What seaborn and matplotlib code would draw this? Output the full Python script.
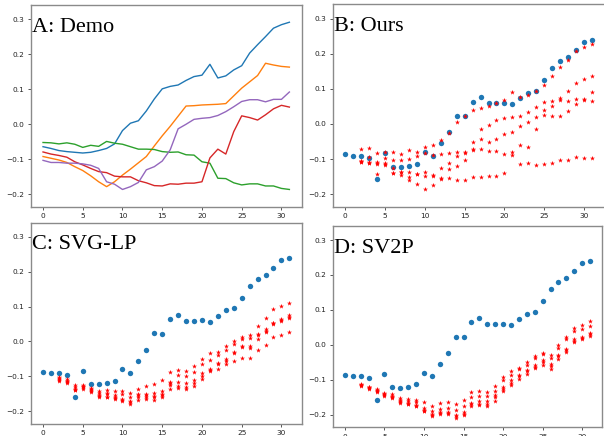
import numpy as np
import pandas as pd
import matplotlib
matplotlib.use("Agg")
import matplotlib.pyplot as plt
import seaborn as sns

# ---------------- data ----------------
steps = list(range(32))
pred_steps = list(range(2, 32))

demo_blue = [-0.064, -0.069, -0.075, -0.078, -0.080, -0.082, -0.080, -0.075, -0.069, -0.056,
             -0.018, 0.003, 0.010, 0.038, 0.072, 0.101, 0.108, 0.112, 0.125, 0.136,
             0.140, 0.171, 0.132, 0.138, 0.155, 0.167, 0.203, 0.227, 0.250, 0.274,
             0.284, 0.291]
demo_orange = [-0.092, -0.097, -0.102, -0.109, -0.121, -0.132, -0.147, -0.164, -0.178, -0.164,
               -0.145, -0.128, -0.110, -0.092, -0.062, -0.033, -0.006, 0.023, 0.052, 0.053,
               0.055, 0.056, 0.057, 0.059, 0.081, 0.103, 0.121, 0.139, 0.174, 0.169,
               0.165, 0.163]
demo_green = [-0.052, -0.053, -0.056, -0.053, -0.057, -0.066, -0.060, -0.063, -0.049, -0.054,
              -0.057, -0.064, -0.071, -0.071, -0.072, -0.078, -0.080, -0.079, -0.087, -0.088,
              -0.107, -0.111, -0.154, -0.155, -0.167, -0.173, -0.170, -0.170, -0.176, -0.176,
              -0.183, -0.186]
demo_red = [-0.079, -0.085, -0.089, -0.094, -0.107, -0.116, -0.126, -0.135, -0.138, -0.148,
            -0.150, -0.150, -0.161, -0.167, -0.175, -0.176, -0.170, -0.171, -0.168, -0.168,
            -0.164, -0.096, -0.071, -0.085, -0.021, 0.024, 0.019, 0.012, 0.027, 0.044,
            0.054, 0.049]
demo_purple = [-0.103, -0.109, -0.109, -0.111, -0.111, -0.113, -0.117, -0.126, -0.164, -0.171,
               -0.186, -0.178, -0.166, -0.130, -0.121, -0.105, -0.073, -0.013, 0.000, 0.014,
               0.017, 0.019, 0.025, 0.036, 0.050, 0.065, 0.070, 0.070, 0.064, 0.071,
               0.071, 0.092]

ground_truth = [-0.087, -0.090, -0.090, -0.096, -0.158, -0.084, -0.122, -0.123, -0.120, -0.113,
                -0.080, -0.090, -0.055, -0.023, 0.023, 0.022, 0.064, 0.076, 0.059, 0.060,
                0.061, 0.057, 0.074, 0.089, 0.095, 0.126, 0.159, 0.179, 0.192, 0.210,
                0.233, 0.241]

ours_s1 = [-0.070, -0.069, -0.082, -0.081, -0.081, -0.086, -0.075, -0.079, -0.066, -0.059,
           -0.046, -0.025, 0.005, 0.022, 0.040, 0.047, 0.050, 0.060, 0.069, 0.090,
           0.076, 0.083, 0.094, 0.111, 0.137, 0.162, 0.183, 0.209, 0.219, 0.227]
ours_s2 = [-0.105, -0.095, -0.108, -0.098, -0.103, -0.104, -0.100, -0.091, -0.082, -0.088,
           -0.087, -0.084, -0.079, -0.079, -0.052, -0.014, -0.002, 0.011, 0.016, 0.019,
           0.024, 0.033, 0.048, 0.062, 0.067, 0.073, 0.094, 0.116, 0.128, 0.136]
ours_s3 = [-0.108, -0.110, -0.113, -0.115, -0.139, -0.138, -0.138, -0.144, -0.136, -0.146,
           -0.125, -0.110, -0.091, -0.084, -0.072, -0.043, -0.050, -0.043, -0.029, -0.022,
           -0.007, 0.006, 0.019, 0.040, 0.051, 0.069, 0.067, 0.070, 0.070, 0.092]
ours_s4 = [-0.106, -0.108, -0.143, -0.117, -0.125, -0.145, -0.150, -0.144, -0.148, -0.148,
           -0.153, -0.129, -0.119, -0.103, -0.074, -0.070, -0.077, -0.076, -0.086, -0.089,
           -0.060, -0.067, -0.015, 0.026, 0.023, 0.023, 0.038, 0.056, 0.068, 0.067]
ours_s5 = [-0.109, -0.110, -0.110, -0.112, -0.139, -0.138, -0.161, -0.170, -0.185, -0.174,
           -0.157, -0.155, -0.160, -0.160, -0.150, -0.150, -0.149, -0.149, -0.139, -0.081,
           -0.114, -0.112, -0.116, -0.114, -0.110, -0.103, -0.103, -0.095, -0.098, -0.098]

svglp_s1 = [-0.103, -0.108, -0.126, -0.124, -0.133, -0.143, -0.140, -0.143, -0.143, -0.148,
            -0.136, -0.127, -0.122, -0.110, -0.088, -0.082, -0.086, -0.070, -0.050, -0.034,
            -0.030, -0.012, 0.000, 0.014, 0.019, 0.044, 0.066, 0.092, 0.101, 0.111]
svglp_s2 = [-0.106, -0.112, -0.130, -0.128, -0.137, -0.149, -0.148, -0.155, -0.150, -0.160,
            -0.150, -0.150, -0.148, -0.143, -0.116, -0.095, -0.098, -0.089, -0.065, -0.053,
            -0.038, -0.025, -0.008, 0.006, 0.010, 0.022, 0.036, 0.054, 0.065, 0.076]
svglp_s3 = [-0.110, -0.116, -0.135, -0.132, -0.141, -0.156, -0.158, -0.163, -0.165, -0.172,
            -0.160, -0.158, -0.157, -0.150, -0.125, -0.117, -0.120, -0.110, -0.091, -0.080,
            -0.063, -0.050, -0.031, -0.017, -0.012, 0.006, 0.026, 0.050, 0.060, 0.070]
svglp_s4 = [-0.113, -0.120, -0.140, -0.136, -0.146, -0.160, -0.160, -0.165, -0.171, -0.180,
            -0.168, -0.165, -0.167, -0.160, -0.135, -0.133, -0.136, -0.127, -0.108, -0.085,
            -0.079, -0.065, -0.057, -0.046, -0.048, -0.025, -0.009, 0.013, 0.019, 0.028]
svglp_s5 = [-0.108, -0.114, -0.138, -0.130, -0.140, -0.153, -0.150, -0.160, -0.168, -0.175,
            -0.155, -0.155, -0.160, -0.155, -0.120, -0.127, -0.130, -0.118, -0.098, -0.082,
            -0.066, -0.057, -0.033, -0.012, -0.020, 0.018, 0.030, 0.052, 0.062, 0.068]

sv2p_s1 = [-0.112, -0.120, -0.127, -0.138, -0.141, -0.152, -0.155, -0.158, -0.165, -0.175,
           -0.167, -0.164, -0.170, -0.157, -0.136, -0.132, -0.134, -0.117, -0.091, -0.075,
           -0.065, -0.050, -0.032, -0.023, -0.029, -0.001, 0.023, 0.049, 0.058, 0.067]
sv2p_s2 = [-0.114, -0.122, -0.130, -0.141, -0.145, -0.157, -0.160, -0.165, -0.180, -0.190,
           -0.183, -0.180, -0.186, -0.175, -0.148, -0.145, -0.146, -0.132, -0.101, -0.086,
           -0.069, -0.058, -0.039, -0.027, -0.037, -0.009, 0.018, 0.040, 0.045, 0.054]
sv2p_s3 = [-0.116, -0.124, -0.133, -0.144, -0.150, -0.163, -0.166, -0.172, -0.186, -0.198,
           -0.193, -0.192, -0.200, -0.193, -0.167, -0.160, -0.162, -0.143, -0.120, -0.102,
           -0.086, -0.072, -0.058, -0.044, -0.055, -0.028, -0.013, 0.018, 0.023, 0.035]
sv2p_s4 = [-0.118, -0.126, -0.135, -0.147, -0.153, -0.167, -0.170, -0.176, -0.190, -0.203,
           -0.197, -0.197, -0.208, -0.200, -0.176, -0.172, -0.176, -0.160, -0.131, -0.115,
           -0.099, -0.084, -0.067, -0.058, -0.069, -0.041, -0.020, 0.009, 0.016, 0.026]
sv2p_s5 = [-0.115, -0.123, -0.131, -0.142, -0.148, -0.160, -0.168, -0.174, -0.188, -0.200,
           -0.195, -0.195, -0.205, -0.197, -0.170, -0.168, -0.170, -0.150, -0.125, -0.108,
           -0.090, -0.076, -0.062, -0.050, -0.060, -0.033, -0.016, 0.012, 0.019, 0.030]

panel_titles = ["A: Demo", "B: Ours", "C: SVG-LP", "D: SV2P"]
x_ticks = [0, 5, 10, 15, 20, 25, 30]
y_ticks = [-0.2, -0.1, 0.0, 0.1, 0.2, 0.3]

# ---------------- figure ----------------
W, H = 604, 436
fig = plt.figure(figsize=(W / 100, H / 100), dpi=100)
fig.patch.set_facecolor("white")


def px_axes(left, top, right, bottom):
    return fig.add_axes([left / W, 1 - bottom / H, (right - left) / W, (bottom - top) / H])


axA = px_axes(30.7, 4.7, 301.7, 207.0)
axB = px_axes(332.7, 4.5, 604.5, 206.7)
axC = px_axes(30.7, 222.7, 301.7, 423.7)
axD = px_axes(332.7, 225.7, 602.3, 427.3)

tab = ["#1f77b4", "#ff7f0e", "#2ca02c", "#d62728", "#9467bd"]

demo = pd.DataFrame({"step": steps * 5,
                     "value": demo_blue + demo_orange + demo_green + demo_red + demo_purple,
                     "run": sum([[i] * 32 for i in range(5)], [])})
sns.lineplot(data=demo, x="step", y="value", hue="run", palette=tab, ax=axA,
             legend=False, linewidth=1.0)


def scatter_panel(ax, series):
    sns.scatterplot(x=steps, y=ground_truth, ax=ax, color="#1f77b4", marker="o",
                    s=15, linewidth=0, legend=False, zorder=2)
    for s in series:
        sns.scatterplot(x=pred_steps, y=s, ax=ax, color="red", marker="*",
                        s=14, linewidth=0, legend=False, zorder=3)


scatter_panel(axB, [ours_s1, ours_s2, ours_s3, ours_s4, ours_s5])
scatter_panel(axC, [svglp_s1, svglp_s2, svglp_s3, svglp_s4, svglp_s5])
scatter_panel(axD, [sv2p_s1, sv2p_s2, sv2p_s3, sv2p_s4, sv2p_s5])

for ax, title in zip([axA, axB, axC, axD], panel_titles):
    ax.set_xlim(-1.55, 32.55)
    ax.set_ylim(-0.236, 0.341)
    ax.set_xticks(x_ticks)
    ax.set_yticks(y_ticks)
    ax.set_xticklabels([str(t) for t in x_ticks])
    ax.set_yticklabels([f"{t:.1f}".replace("-", "\u2212") for t in y_ticks])
    ax.set_xlabel("")
    ax.set_ylabel("")
    ax.tick_params(labelsize=5.3, length=2.5, width=0.7, pad=2.0,
                   color="#555555", labelcolor="#222222")
    for sp in ax.spines.values():
        sp.set_color("#8a8a8a")
        sp.set_linewidth(1.0)
    ax.set_facecolor("white")
    ax.text(0.005, 0.867, title, transform=ax.transAxes, ha="left", va="baseline",
            fontsize=16, family="Liberation Serif", color="black")

axB.spines["right"].set_visible(False)

fig.savefig("out.png", dpi=100)
